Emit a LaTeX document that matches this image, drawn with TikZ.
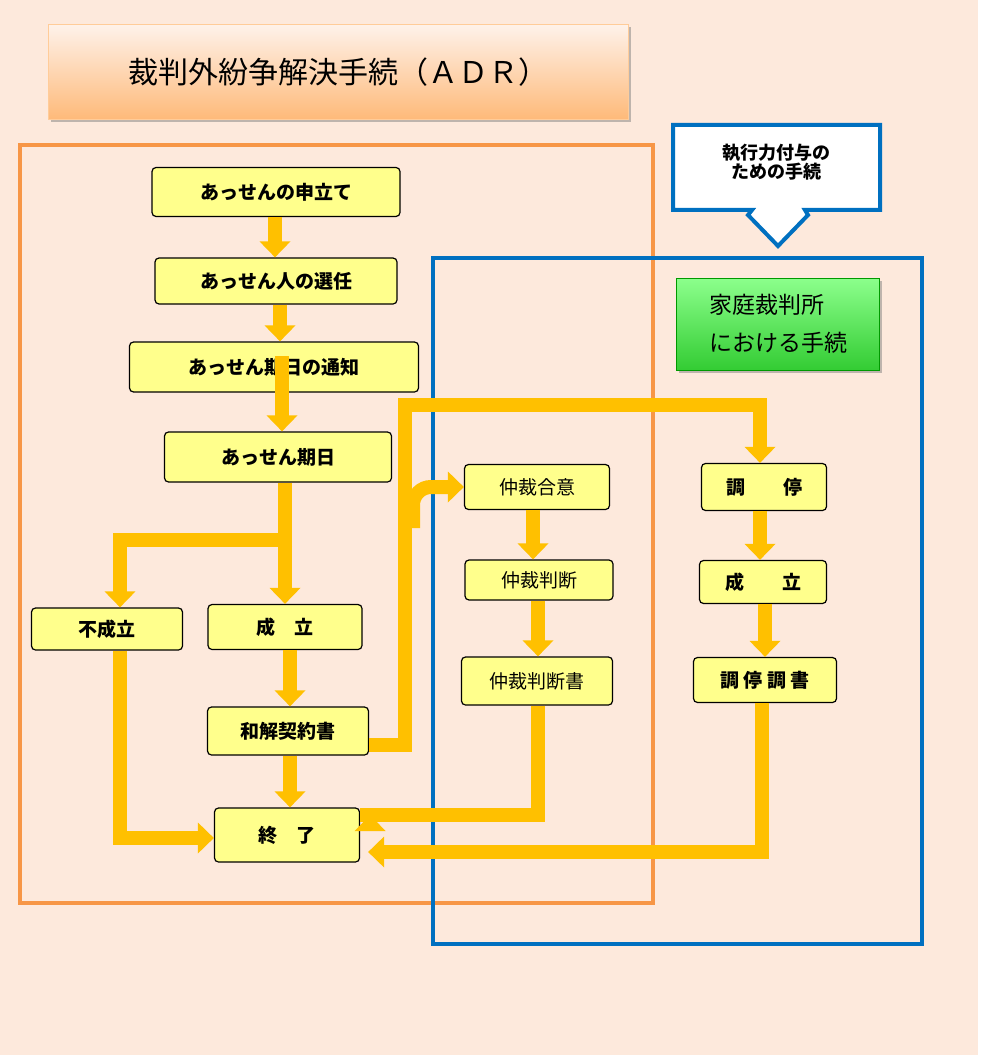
\documentclass[tikz,border=0pt]{standalone}
\usepackage{fontspec}
\setmainfont{Noto Sans CJK JP}
\newfontfamily\jpb[BoldFont={Noto Sans CJK JP Bold}]{Noto Sans CJK JP}
\usetikzlibrary{arrows.meta,shadows}
\definecolor{bg}{HTML}{FDE9DC}
\definecolor{arr}{HTML}{FFC000}
\definecolor{orl}{HTML}{F79646}
\definecolor{bll}{HTML}{0070C0}
\definecolor{boxy}{HTML}{FFFF8C}
\begin{document}
\begin{tikzpicture}[x=1pt,y=-1pt,
 yb/.style={draw=black,line width=1.2pt,fill=boxy,rounded corners=4pt,font=\fontsize{19}{22}\selectfont\bfseries,inner sep=0pt},
 ar/.style={draw=arr,line width=14pt,-{Triangle[width=30pt,length=16pt]}},
 ln/.style={draw=arr,line width=14pt}]
\fill[white] (0,0) rectangle (1000,1059);
\fill[bg] (0,0) rectangle (978,1055);
\useasboundingbox (0,0) rectangle (1000,1059);
% title
\node[minimum width=580pt,minimum height=95pt,top color=bg!60,bottom color=orange!45!bg,draw=orange!40,drop shadow,font=\fontsize{30}{34}\selectfont] (t) at (338,72) {裁判外紛争解決手続（ＡＤＲ）};
% frames
\draw[orl,line width=4pt] (20,145) rectangle (653,903);
\draw[bll,line width=4pt] (433,258) rectangle (922,944);
\draw[bll,line width=4pt,fill=white] (673,125)--(880,125)--(880,210)--(805,210)--(808,215)--(778,246)--(748,215)--(752,210)--(673,210)--cycle;
\node[font=\fontsize{18}{19}\selectfont\bfseries,align=center] (cap) at (776,162) {執行力付与の\\ための手続};
\node[draw=green!60!black,top color=green!45!white,bottom color=green!75!black!80,drop shadow,minimum width=203pt,minimum height=92pt,align=left,font=\fontsize{23}{38}\selectfont] (g) at (778,324) {家庭裁判所\\における手続};
% boxes
\node[yb,minimum width=248pt,minimum height=49pt] (a1) at (276,192) {あっせんの申立て};
\node[yb,minimum width=242pt,minimum height=46pt] (a2) at (276,281) {あっせん人の選任};
\node[yb,minimum width=289pt,minimum height=50pt] (a3) at (274,367) {あっせん期日の通知};
\node[yb,minimum width=227pt,minimum height=50pt] (a4) at (278,457) {あっせん期日};
\node[yb,minimum width=151pt,minimum height=42pt] (f) at (107,629) {不成立};
\node[yb,minimum width=154pt,minimum height=45pt] (s) at (285,627) {成　立};
\node[yb,minimum width=161pt,minimum height=48pt] (w) at (288,731) {和解契約書};
\node[yb,minimum width=145pt,minimum height=54pt] (e) at (287,835) {終　了};
\node[yb,minimum width=145pt,minimum height=45pt,font=\fontsize{19}{22}\selectfont] (c1) at (537,487) {仲裁合意};
\node[yb,minimum width=148pt,minimum height=40pt,font=\fontsize{19}{22}\selectfont] (c2) at (539,580) {仲裁判断};
\node[yb,minimum width=151pt,minimum height=48pt,font=\fontsize{19}{22}\selectfont] (c3) at (537,681) {仲裁判断書};
\node[yb,minimum width=125pt,minimum height=47pt] (m1) at (764,487) {調　　停};
\node[yb,minimum width=127pt,minimum height=43pt] (m2) at (763,582) {成　　立};
\node[yb,minimum width=143pt,minimum height=45pt] (m3) at (765,680) {調 停 調 書};
% arrows
\draw[ar] (a1.south -| 275,0) -- (a2.north -| 275,0);
\draw[ar] (a2.south -| 280,0) -- (a3.north -| 280,0);
\draw[ar] (a4.north -| 282,0) ++(0,-75) -- (a4.north -| 282,0);
\draw[ln] (a4.south -| 285,0) -- (285,540);
\draw[ln] (292,540) -- (113,540);
\draw[ar] (120,533) -- (f.north -| 120,0);
\draw[ar] (285,540) -- (s.north -| 285,0);
\draw[ar] (s.south -| 290,0) -- (w.north -| 290,0);
\draw[ar] (w.south -| 290,0) -- (e.north -| 290,0);
\draw[ar] (f.south -| 120,0) -- (120,838) -- (e.west |- 0,838);
\draw[ar] (w.east |- 0,745) -- (405,745) -- (405,405) -- (760,405) -- (m1.north -| 760,0);
\draw[ar] (413,528) -- (413,505) arc (180:270:18) -- (c1.west |- 0,487);
\draw[ar] (c1.south -| 533,0) -- (c2.north -| 533,0);
\draw[ar] (c2.south -| 538,0) -- (c3.north -| 538,0);
\draw[ar] (c3.south -| 538,0) -- (538,815) -- (e.east |- 0,815) ++(10,0);
\draw[ar] (m1.south -| 760,0) -- (m2.north -| 760,0);
\draw[ar] (m2.south -| 765,0) -- (m3.north -| 765,0);
\draw[ar] (m3.south -| 762,0) -- (762,852) -- ([xshift=8pt]e.east |- 0,852);
\end{tikzpicture}
\end{document}
